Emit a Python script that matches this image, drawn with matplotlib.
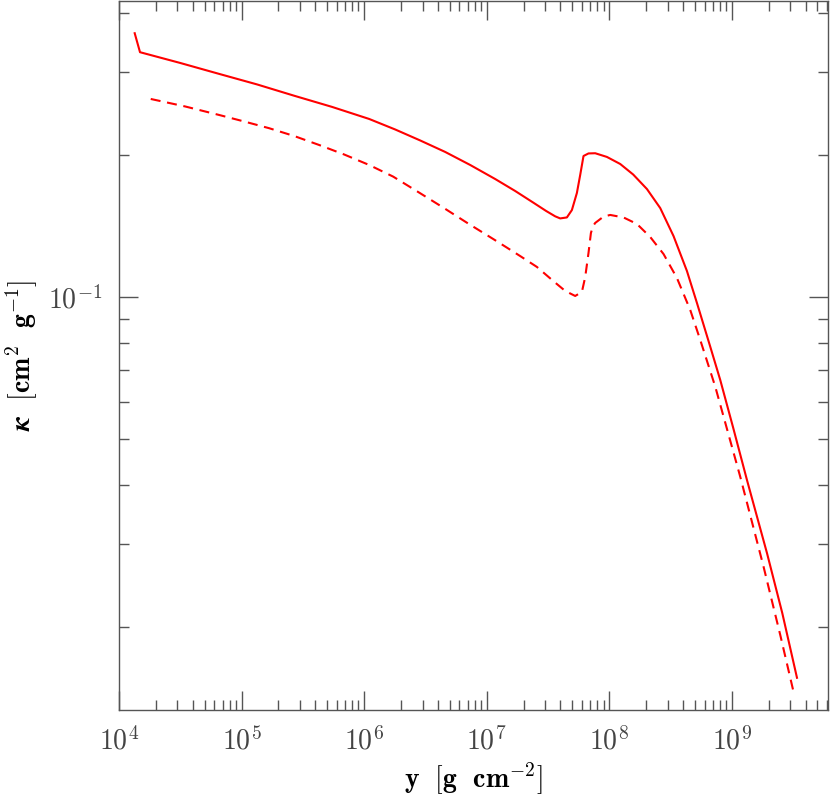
import numpy as np
import matplotlib
matplotlib.use("Agg")
from matplotlib import pyplot as plt
from matplotlib import ticker

plt.rcParams['mathtext.fontset'] = 'cm'
plt.rcParams['font.family'] = ['DejaVu Serif']

# solid curve (column depth y, opacity kappa)
y_solid = [1.343e4, 1.484e4, 3.147e4, 6.55e4, 1.338e5, 2.683e5, 5.48e5, 1.099e6,
           1.791e6, 2.865e6, 4.584e6, 7.335e6, 1.173e7, 1.709e7, 2.397e7, 3.06e7,
           3.624e7, 3.981e7, 4.515e7, 4.96e7, 5.449e7, 5.8e7, 6.17e7, 6.776e7,
           7.687e7, 9.577e7, 1.23e8, 1.57e8, 2.032e8, 2.608e8, 3.349e8, 4.308e8,
           5.2e8, 6.676e8, 8.055e8, 1.028e9, 1.331e9, 1.938e9, 2.584e9, 3.406e9]
k_solid = [0.3620, 0.3300, 0.3132, 0.2969, 0.2820, 0.2669, 0.2527, 0.2383,
           0.2264, 0.2146, 0.2029, 0.1904, 0.1778, 0.1677, 0.1585, 0.1521,
           0.1482, 0.1467, 0.1474, 0.1528, 0.1661, 0.1814, 0.1989, 0.2014,
           0.2016, 0.1980, 0.1913, 0.1817, 0.1693, 0.1543, 0.1346, 0.1135,
           0.09711, 0.07847, 0.06672, 0.05280, 0.04095, 0.02868, 0.02140, 0.01561]

# dashed curve
y_dash = [1.815e4, 3.457e4, 6.55e4, 1.048e5, 1.677e5, 2.683e5, 4.292e5, 6.866e5,
          1.099e6, 1.725e6, 2.76e6, 4.415e6, 7.063e6, 1.13e7, 1.416e7, 1.877e7,
          2.569e7, 3.51e7, 4.373e7, 5.277e7, 5.986e7, 6.37e7, 6.776e7, 7.091e7,
          7.35e7, 7.687e7, 8.985e7, 1.019e8, 1.308e8, 1.683e8, 2.161e8, 2.776e8,
          3.57e8, 4.584e8, 5.533e8, 7.335e8, 1.173e9, 1.818e9, 2.489e9, 3.237e9]
k_dash = [0.2627, 0.2533, 0.2430, 0.2354, 0.2278, 0.2193, 0.2099, 0.2004,
          0.1904, 0.1799, 0.1669, 0.1547, 0.1431, 0.1327, 0.1279, 0.1221,
          0.1158, 0.1080, 0.1030, 0.1005, 0.1025, 0.1102, 0.1239, 0.1366,
          0.1410, 0.1435, 0.1480, 0.1492, 0.1474, 0.1428, 0.1340, 0.1233,
          0.1097, 0.09386, 0.08108, 0.06457, 0.04161, 0.02683, 0.01922, 0.01435]

fig = plt.figure(figsize=(8.3, 8.01), dpi=100)
ax = fig.add_axes([119/830, 91/801, 709/830, 709/801])

ax.plot(y_solid, k_solid, color='#ff0000', lw=1.5)
ax.plot(y_dash, k_dash, color='#ff0000', lw=1.5, linestyle=(0, (4.8, 3.2)))

ax.set_xscale('log')
ax.set_yscale('log')
ax.set_xlim(1e4, 6.1e9)
ax.set_ylim(0.01334, 0.4236)

ax.xaxis.set_major_locator(ticker.LogLocator(base=10, numticks=20))
ax.xaxis.set_minor_locator(ticker.LogLocator(base=10, subs=np.arange(2, 10), numticks=20))
ax.xaxis.set_major_formatter(ticker.FuncFormatter(lambda v, p: r'$10^{%d}$' % round(np.log10(v))))
ax.xaxis.set_minor_formatter(ticker.NullFormatter())

ax.yaxis.set_major_locator(ticker.FixedLocator([0.1]))
ax.yaxis.set_minor_locator(ticker.LogLocator(base=10, subs=np.arange(2, 10), numticks=20))
ax.yaxis.set_major_formatter(ticker.FixedFormatter([r'$10^{-1}$']))
ax.yaxis.set_minor_formatter(ticker.NullFormatter())

for s in ax.spines.values():
    s.set_color('#555555')
    s.set_linewidth(1.0)

ax.tick_params(which='both', direction='in', top=True, right=True, color='#555555',
               labelcolor='#444444', labelsize=20)
ax.tick_params(which='major', length=13.5, width=1.0, pad=12)
ax.tick_params(which='minor', length=7, width=1.0)

ax.set_xlabel(r'$\mathbf{y\ \ [g\ \ cm^{-2}]}$', fontsize=20, labelpad=4)
ax.set_ylabel(r'$\boldsymbol{\kappa}\ \ \mathbf{[cm^{2}\ \ g^{-1}]}$', fontsize=20, labelpad=6)

fig.savefig('out.png', dpi=100)
